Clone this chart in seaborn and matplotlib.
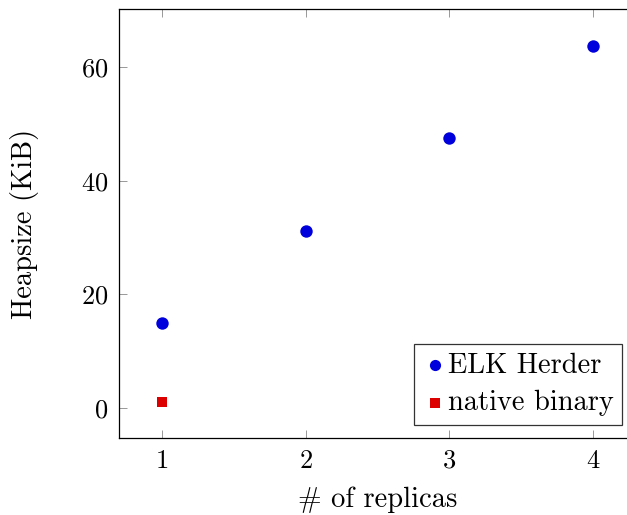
import matplotlib
matplotlib.use("Agg")
import matplotlib.pyplot as plt
import seaborn as sns
import pandas as pd

replicas_elk = [1, 2, 3, 4]
heap_elk = [15.0, 31.2, 47.5, 63.8]
replicas_native = [1]
heap_native = [1.05]
x_ticks = [1, 2, 3, 4]
y_ticks = [0, 20, 40, 60]

sns.set_style("ticks")
plt.rcParams["font.family"] = ["cmr10", "DejaVu Serif"]
plt.rcParams["axes.formatter.use_mathtext"] = True
plt.rcParams["mathtext.fontset"] = "cm"
plt.rcParams["text.color"] = "black"
plt.rcParams["axes.labelcolor"] = "black"
plt.rcParams["xtick.labelcolor"] = "black"
plt.rcParams["ytick.labelcolor"] = "black"

fig = plt.figure(figsize=(6.27, 5.15), dpi=100)
ax = fig.add_axes([119/627, 77/515, (636-119)/627, (438-9)/515])

df_elk = pd.DataFrame({"x": replicas_elk, "y": heap_elk})
df_nat = pd.DataFrame({"x": replicas_native, "y": heap_native})
sns.scatterplot(data=df_elk, x="x", y="y", ax=ax, color="#0000dd", marker="o",
                s=80, linewidth=0, label="ELK Herder")
sns.scatterplot(data=df_nat, x="x", y="y", ax=ax, color="#dd0000", marker="s",
                s=55, linewidth=0, label="native binary")

ax.set_xlim(0.7, 4.3)
ax.set_ylim(-5.3, 70.3)
ax.set_xticks(x_ticks)
ax.set_yticks(y_ticks)
ax.tick_params(direction="in", length=6, width=0.6, color="#888888", labelsize=19,
               top=True, right=True, pad=8)
for s in ax.spines.values():
    s.set_linewidth(0.9)
    s.set_color("black")
ax.set_xlabel("# of replicas", fontsize=20.5, labelpad=10)
ax.set_ylabel("Heapsize (KiB)", fontsize=20.5, labelpad=30)

leg = ax.legend(loc="lower right", bbox_to_anchor=((622-119)/(636-119), (438-425)/(438-9)),
                fontsize=20.5, frameon=True, fancybox=False, edgecolor="black",
                handletextpad=0.0, borderpad=0.3, labelspacing=0.4, handlelength=0.9,
                borderaxespad=0, markerscale=0.9)
leg.get_frame().set_linewidth(0.9)

fig.savefig("out.png", dpi=100)
